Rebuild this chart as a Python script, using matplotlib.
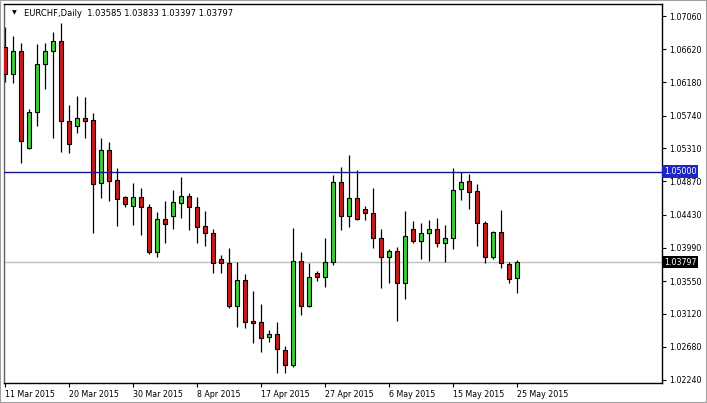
import matplotlib
matplotlib.use("Agg")
import matplotlib.pyplot as plt
import numpy as np
import pandas as pd

# EURCHF daily, 11 Mar 2015 .. 25 May 2015 (broker has Sunday bars)
opens = [1.06646, 1.06288, 1.06593, 1.05308, 1.05785, 1.06421, 1.06601, 1.06725, 1.05666, 1.05607,
         1.05705, 1.05683, 1.04845, 1.05286, 1.04888, 1.04659, 1.04548, 1.04659, 1.04535, 1.03939,
         1.04368, 1.04416, 1.04580, 1.04677, 1.04527, 1.04279, 1.04183, 1.03842, 1.03785, 1.03224,
         1.03564, 1.03021, 1.03004, 1.02813, 1.02849, 1.02637, 1.02435, 1.03812, 1.03224, 1.03653,
         1.03600, 1.03807, 1.04866, 1.04412, 1.04646, 1.04504, 1.04447, 1.04116, 1.03873, 1.03948,
         1.03521, 1.04236, 1.04085, 1.04183, 1.04236, 1.04050, 1.04116, 1.04765, 1.04871, 1.04739,
         1.04315, 1.03865, 1.04200, 1.03776, 1.03585]
highs = [1.06914, 1.06795, 1.06707, 1.05829, 1.06689, 1.06699, 1.06848, 1.06963, 1.05882, 1.06001,
         1.05984, 1.05772, 1.05441, 1.05396, 1.05043, 1.04677, 1.04845, 1.04779, 1.04571, 1.04469,
         1.04614, 1.04756, 1.04932, 1.04712, 1.04659, 1.04482, 1.04240, 1.03895, 1.03992, 1.03799,
         1.03644, 1.03423, 1.03246, 1.02902, 1.03004, 1.02690, 1.04249, 1.03931, 1.03785, 1.03687,
         1.04116, 1.04955, 1.05057, 1.05220, 1.05021, 1.04548, 1.04779, 1.04240, 1.03975, 1.04005,
         1.04478, 1.04349, 1.04315, 1.04359, 1.04381, 1.04293, 1.05043, 1.04990, 1.04968, 1.04835,
         1.04346, 1.04213, 1.04491, 1.03807, 1.03833]
lows = [1.06186, 1.06177, 1.05117, 1.05300, 1.05607, 1.06093, 1.05449, 1.05263, 1.05242, 1.05515,
        1.05449, 1.04191, 1.04654, 1.04614, 1.04283, 1.04535, 1.04293, 1.04160, 1.03905, 1.03865,
        1.04050, 1.04240, 1.04381, 1.04226, 1.04050, 1.04018, 1.03653, 1.03653, 1.03190, 1.02946,
        1.02925, 1.02734, 1.02615, 1.02747, 1.02329, 1.02337, 1.02408, 1.03101, 1.03211, 1.03555,
        1.03468, 1.03763, 1.04226, 1.04270, 1.04359, 1.04359, 1.03992, 1.03454, 1.03528, 1.03025,
        1.03309, 1.04050, 1.03842, 1.03820, 1.04005, 1.03807, 1.03975, 1.04624, 1.04504, 1.04018,
        1.03793, 1.03838, 1.03727, 1.03528, 1.03397]
closes = [1.06292, 1.06593, 1.05409, 1.05785, 1.06425, 1.06601, 1.06725, 1.05666, 1.05361, 1.05705,
          1.05674, 1.04832, 1.05286, 1.04879, 1.04633, 1.04567, 1.04659, 1.04527, 1.03939, 1.04368,
          1.04302, 1.04593, 1.04677, 1.04527, 1.04262, 1.04183, 1.03785, 1.03785, 1.03224, 1.03564,
          1.03012, 1.02999, 1.02792, 1.02849, 1.02647, 1.02435, 1.03812, 1.03224, 1.03608, 1.03600,
          1.03807, 1.04866, 1.04412, 1.04646, 1.04372, 1.04447, 1.04116, 1.03865, 1.03948, 1.03521,
          1.04151, 1.04085, 1.04183, 1.04236, 1.04050, 1.04116, 1.04752, 1.04858, 1.04734, 1.04315,
          1.03865, 1.04200, 1.03785, 1.03574, 1.03797]

price_ticks = [1.07060, 1.06620, 1.06180, 1.05740, 1.05310, 1.04870,
               1.04430, 1.03990, 1.03550, 1.03120, 1.02680, 1.02240]
level_line = 1.05000
last_price = 1.03797

days = pd.date_range("2015-03-11", "2015-05-25")
days = days[days.dayofweek != 5]  # no Saturday bars
label_every = 8

BULL = "#3ccf3c"
BEAR = "#c81c1c"
LINE_BLUE = "#15158c"
BOX_BLUE = "#1e26c4"
FONT = "DejaVu Sans"

W, H = 707, 403
fig = plt.figure(figsize=(W / 100, H / 100), dpi=100)
fig.patch.set_facecolor("white")
ax = fig.add_axes([4 / W, 20 / H, 658 / W, 379 / H])

o = np.array(opens)
c = np.array(closes)
x = np.arange(len(o))
up = c >= o
col = np.where(up, BULL, BEAR)

ax.vlines(x, lows, highs, color="black", lw=0.9, zorder=2)
ax.bar(x, np.maximum(np.abs(c - o), 0.00003), bottom=np.minimum(o, c), width=0.6,
       color=col, edgecolor="black", linewidth=0.8, zorder=3)

ax.axhline(level_line, color=LINE_BLUE, lw=1.0, zorder=4)
ax.axhline(last_price, color="#c0c0c0", lw=1.0, zorder=1)

ax.set_xlim(-0.125, 82.125)
ax.set_ylim(1.02200, 1.07219)

# right price scale
ax.yaxis.tick_right()
ax.set_yticks(price_ticks)
ax.set_yticklabels([f"{v:.5f}" for v in price_ticks])
ax.tick_params(axis="y", length=3, width=0.8, pad=2, labelsize=5.7, colors="black")

pos = x[::label_every]
ax.set_xticks(pos)
ax.set_xticklabels([f"{d.day} {d.strftime('%b %Y')}" for d in days[::label_every]])
ax.tick_params(axis="x", length=3, width=0.8, pad=2, labelsize=5.7)
for lbl in ax.get_xticklabels():
    lbl.set_horizontalalignment("left")
    lbl.set_fontfamily(FONT)
for lbl in ax.get_yticklabels():
    lbl.set_fontfamily(FONT)

for s in ax.spines.values():
    s.set_color("black")
    s.set_linewidth(1.0)
ax.spines["left"].set_color("#606060")

# price labels on the scale
tr = ax.get_yaxis_transform()
ax.text(1.003, level_line, f"{level_line:.5f}", transform=tr, ha="left", va="center",
        fontsize=5.7, family=FONT, color="white", zorder=6,
        bbox=dict(boxstyle="square,pad=0.2", fc=BOX_BLUE, ec="none"))
ax.text(1.003, last_price, f"{last_price:.5f}", transform=tr, ha="left", va="center",
        fontsize=5.7, family=FONT, color="white", zorder=6,
        bbox=dict(boxstyle="square,pad=0.2", fc="black", ec="none"))

# header
ax.text(8 / 658, 1 - 9 / 379, "\u25bc", transform=ax.transAxes, fontsize=4.5,
        family=FONT, ha="left", va="center")
ax.text(20 / 658, 1 - 9 / 379,
        "EURCHF,Daily  %.5f %.5f %.5f %.5f" % (opens[-1], highs[-1], lows[-1], closes[-1]),
        transform=ax.transAxes, fontsize=6, family=FONT, ha="left", va="center")

# chart shift marker
ax.plot([65.5], [1.0], marker="v", color="#a0a0a0", ms=4, transform=tr,
        clip_on=False, zorder=6)

# outer frame of the screenshot
fig.add_artist(plt.Rectangle((0, 0), 1, 1, transform=fig.transFigure, fill=False,
                             ec="#a0a0a0", lw=1.5))

fig.savefig("out.png", dpi=100)
